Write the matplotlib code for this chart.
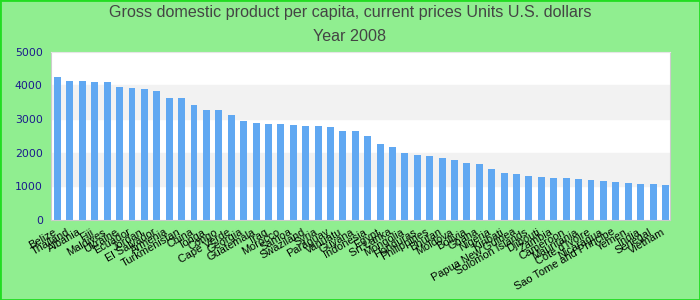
import matplotlib.pyplot as plt
from matplotlib.patches import Rectangle
from matplotlib.transforms import ScaledTranslation

countries = [
    "Belize", "Thailand", "Albania", "Fiji", "Maldives", "Ukraine", "Ecuador",
    "Jordan", "El Salvador", "Armenia", "Turkmenistan", "China", "Tonga",
    "Congo", "Cape Verde", "Georgia", "Guatemala", "Iraq", "Morocco", "Samoa",
    "Swaziland", "Syria", "Paraguay", "Vanuatu", "Guyana", "Indonesia", "Egypt",
    "Sri Lanka", "Mongolia", "Honduras", "Philippines", "Bhutan", "Moldova",
    "Bolivia", "Ghana", "Nigeria", "Kiribati", "Papua New Guinea",
    "Solomon Islands", "Djibouti", "Zambia", "Cameroon", "Mauritania",
    "Cote d'Ivoire", "Nicaragua", "Sao Tome and Principe", "Yemen", "India",
    "Senegal", "Vietnam",
]
gdp = [
    4248, 4129, 4129, 4099, 4099, 3950, 3921, 3891, 3832, 3624, 3624, 3416,
    3267, 3267, 3119, 2941, 2881, 2851, 2851, 2822, 2792, 2792, 2762, 2644,
    2644, 2495, 2257, 2168, 1990, 1931, 1901, 1842, 1782, 1693, 1663, 1515,
    1396, 1366, 1307, 1277, 1248, 1248, 1218, 1188, 1158, 1129, 1099, 1069,
    1069, 1040,
]
yticks = [0, 1000, 2000, 3000, 4000, 5000]

fig = plt.figure(figsize=(7, 3), dpi=100, facecolor="#90ee90")
fig.patches.append(Rectangle((0, 0), 1, 1, transform=fig.transFigure,
                             fill=False, edgecolor="#22dd22", linewidth=2))

ax = fig.add_axes([0.073, 0.267, 0.884, 0.561])
ax.set_facecolor("white")

# alternating bands
for i in range(len(yticks) - 1):
    if i % 2 == 1:
        ax.axhspan(yticks[i], yticks[i + 1], color="#f2f2f2", zorder=0)

x = range(len(countries))
ax.bar(x, gdp, width=0.56, color="#60a8f2", zorder=2)

ax.set_xlim(-0.52, len(countries) - 0.64)
ax.set_ylim(0, 5000)
ax.set_yticks(yticks)
ax.set_yticklabels([str(v) for v in yticks], color="#1a1a8c", fontsize=7.8)
ax.set_xticks(list(x))
ax.set_xticklabels(countries, rotation=30, ha="right", rotation_mode="anchor",
                   fontsize=7.9, family="Liberation Sans")
ax.tick_params(length=0, pad=6)
ax.tick_params(axis="x", pad=5)

# nudge labels a little to the left, like the original
shift = ScaledTranslation(-4 / 100, 0, fig.dpi_scale_trans)
for lbl in ax.get_xticklabels():
    lbl.set_transform(lbl.get_transform() + shift)

for side in ax.spines.values():
    side.set_color("#cccccc")
ax.spines["top"].set_color("#e6e6e6")

fig.text(0.5, 0.958, "Gross domestic product per capita, current prices Units U.S. dollars",
         ha="center", va="center", fontsize=11.6, color="#444444", family="Liberation Sans")
fig.text(0.5, 0.878, "Year 2008", ha="center", va="center", fontsize=11.6,
         color="#444444", family="Liberation Sans")

plt.savefig("out.png", dpi=100, facecolor=fig.get_facecolor())
